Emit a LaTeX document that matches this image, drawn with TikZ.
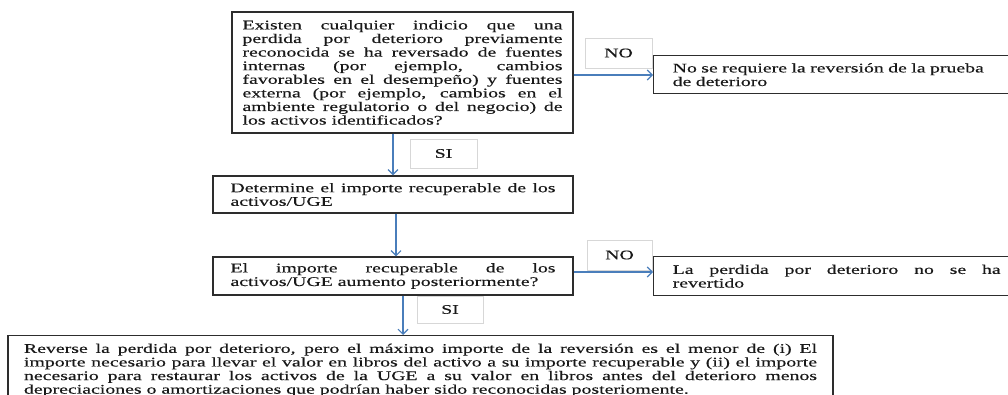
\documentclass[tikz,border=0pt]{standalone}
\usepackage{fontspec}
\setmainfont{Liberation Serif}[FakeStretch=1.5,FakeBold=0.3]
\usetikzlibrary{arrows.meta}
\definecolor{arrowblue}{RGB}{74,126,187}
\definecolor{boxline}{RGB}{45,45,45}
\definecolor{lblline}{RGB}{215,215,215}
\newcommand\boxfont{\fontsize{13.2}{13.6}\selectfont\hyphenpenalty=10000\exhyphenpenalty=10000\tolerance=10000\pretolerance=10000}
\begin{document}
\begin{tikzpicture}[x=1pt,y=-1pt,
  box/.style={draw=boxline, line width=1.4pt, fill=white, inner xsep=0pt, inner ysep=0pt, font=\boxfont, text=black!90},
  lbl/.style={draw=lblline, line width=0.8pt, fill=white, font=\boxfont, inner sep=0pt, text=black!90},
  arr/.style={draw=arrowblue, line width=1.1pt, -{Straight Barb[length=5pt,width=10pt]}}]
\useasboundingbox (0,0) rectangle (1008,395);
\clip (0,0) rectangle (1008,395);
\coordinate (ya) at (0,75);
\coordinate (yb) at (0,272);
\coordinate (xa) at (393,0);
\coordinate (xb) at (396,0);
\coordinate (xc) at (403,0);

\node[box, minimum width=341pt, minimum height=121pt, text width=320pt, align=justify] (b1) at (402.5,72.5)
 {Existen cualquier indicio que una\linebreak perdida por deterioro previamente\linebreak reconocida se ha reversado de fuentes\linebreak internas (por ejemplo, cambios\linebreak favorables en el desempeño) y fuentes\linebreak externa (por ejemplo, cambios en el\linebreak ambiente regulatorio o del negocio) de\linebreak los activos identificados?};

\node[box, anchor=north west, minimum width=400pt, minimum height=38pt, text width=362pt, align=left] (r1) at (653,55)
 {No se requiere la reversión de la prueba\\de deterioro};

\node[box, minimum width=360pt, minimum height=37pt, text width=325pt, align=justify] (b2) at (393,194.5)
 {Determine el importe recuperable de los\linebreak activos/UGE};

\node[box, minimum width=360pt, minimum height=38pt, text width=325pt, align=justify] (b3) at (393,276)
 {El importe recuperable de los\linebreak activos/UGE aumento posteriormente?};

\node[box, anchor=north west, minimum width=366pt, minimum height=39pt, text width=328pt, align=justify] (r2) at (653,256)
 {La perdida por deterioro no se ha\linebreak revertido};

\node[box, anchor=north, minimum width=825pt, text width=793pt, align=justify, inner ysep=8pt] (b4) at (420.5,335)
 {Reverse la perdida por deterioro, pero el máximo importe de la reversión es el menor de (i) El\linebreak importe necesario para llevar el valor en libros del activo a su importe recuperable y (ii) el importe\linebreak necesario para restaurar los activos de la UGE a su valor en libros antes del deterioro menos\linebreak depreciaciones o amortizaciones que podrían haber sido reconocidas posteriomente.};

\node[lbl, minimum width=67pt, minimum height=30pt] (no1) at (618.5,53) {NO};
\node[lbl, minimum width=65pt, minimum height=30pt] (no2) at (619.5,255) {NO};
\node[lbl, minimum width=67pt, minimum height=29pt] (si1) at (443.5,153.5) {SI};
\node[lbl, minimum width=66pt, minimum height=27pt] (si2) at (450,309.5) {SI};

\draw[arr] (b1.east |- ya) -- (r1.west |- ya);
\draw[arr] (b1.south -| xa) -- (b2.north -| xa);
\draw[arr] (b2.south -| xb) -- (b3.north -| xb);
\draw[arr] (b3.east |- yb) -- (r2.west |- yb);
\draw[arr] (b3.south -| xc) -- (b4.north -| xc);
\end{tikzpicture}
\end{document}
